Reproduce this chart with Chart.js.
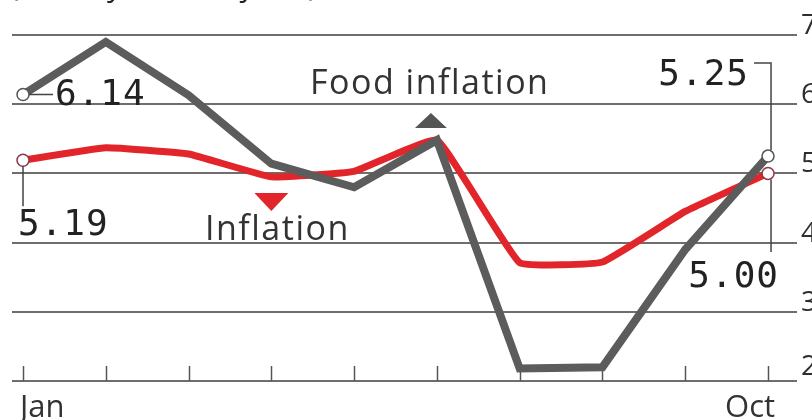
<!DOCTYPE html>
<html>
<head>
<meta charset="utf-8">
<script src="https://cdn.jsdelivr.net/npm/chart.js@4/dist/chart.umd.min.js"></script>
<style>
  html, body { margin: 0; padding: 0; background: #ffffff; }
  #wrap { width: 812px; height: 420px; }
</style>
</head>
<body>
<div id="wrap"><canvas id="c" width="812" height="420"></canvas></div>
<script>
// ---- Data ----
const months = ['Jan','Feb','Mar','Apr','May','Jun','Jul','Aug','Sep','Oct'];
const inflation = [5.19, 5.37, 5.28, 4.95, 5.03, 5.48, 3.71, 3.72, 4.45, 5.00];
const foodInflation = [6.14, 6.90, 6.13, 5.14, 4.80, 5.48, 2.18, 2.20, 3.90, 5.25];
const yTickValues = [2, 3, 4, 5, 6, 7];
const shownMonths = ['Jan', 'Oct'];
const titleText = '(in %, year-on-year)';
const foodLabel = 'Food inflation';
const inflLabel = 'Inflation';

const RED = '#e2252b';
const GREY = '#5c5c5c';
const GRID = '#6e6e6e';
const TEXT = '#2e2e2e';

const toPoints = arr => arr.map((v, i) => ({ x: i, y: v }));
const endRadius = arr => arr.map((v, i) => (i === 0 || i === arr.length - 1) ? 6 : 0);

const overlay = {
  id: 'overlay',
  beforeDatasetsDraw(chart) {
    const { ctx, chartArea: a, scales: { x, y } } = chart;
    ctx.save();
    // horizontal grid lines
    ctx.strokeStyle = GRID;
    ctx.lineWidth = 2;
    yTickValues.forEach(v => {
      const py = Math.round(y.getPixelForValue(v));
      ctx.beginPath();
      ctx.moveTo(a.left, py);
      ctx.lineTo(a.right, py);
      ctx.stroke();
    });
    // month tick marks rising from the base line
    ctx.strokeStyle = '#555';
    ctx.lineWidth = 1.5;
    const base = y.getPixelForValue(yTickValues[0]);
    months.forEach((m, i) => {
      const px = Math.round(x.getPixelForValue(i)) + 0.5;
      ctx.beginPath();
      ctx.moveTo(px, base - 15);
      ctx.lineTo(px, base);
      ctx.stroke();
    });
    // right-side value labels
    ctx.fillStyle = TEXT;
    ctx.font = '28px "Open Sans"';
    ctx.textAlign = 'left';
    ctx.textBaseline = 'alphabetic';
    yTickValues.forEach(v => {
      const py = y.getPixelForValue(v);
      ctx.fillText(String(v), a.right + 4, py - 1 - (v === yTickValues[0] ? 5 : 0));
    });
    // month labels
    ctx.font = '31px "Open Sans"';
    ctx.fillStyle = '#333';
    months.forEach((m, i) => {
      if (!shownMonths.includes(m)) return;
      const px = x.getPixelForValue(i);
      if (i === 0) { ctx.textAlign = 'left'; ctx.fillText(m, px - 3, 417); }
      else { ctx.textAlign = 'right'; ctx.fillText(m, px + 7, 417); }
    });
    // cut-off subtitle at top
    ctx.textAlign = 'left';
    ctx.font = '30px "Open Sans"';
    ctx.fillStyle = '#222';
    ctx.letterSpacing = '2px';
    ctx.fillText(titleText, 10, -4);
    ctx.restore();
  },
  afterDatasetsDraw(chart) {
    const { ctx, scales: { x, y } } = chart;
    const last = months.length - 1;
    const x0 = x.getPixelForValue(0);
    const xN = x.getPixelForValue(last);
    const gy0 = y.getPixelForValue(foodInflation[0]);
    const ry0 = y.getPixelForValue(inflation[0]);
    const gyN = y.getPixelForValue(foodInflation[last]);
    const ryN = y.getPixelForValue(inflation[last]);
    ctx.save();
    // leader lines
    ctx.strokeStyle = '#444';
    ctx.lineWidth = 1.5;
    ctx.beginPath();
    ctx.moveTo(x0 + 6, gy0); ctx.lineTo(x0 + 30, gy0);
    ctx.moveTo(x0, ry0 + 6); ctx.lineTo(x0, ry0 + 46);
    ctx.moveTo(xN - 14, 63); ctx.lineTo(xN + 3, 63); ctx.lineTo(xN + 3, gyN - 6);
    ctx.moveTo(xN + 3, ryN + 6); ctx.lineTo(xN + 3, 252);
    ctx.stroke();
    // value labels
    ctx.fillStyle = '#222';
    ctx.font = '36px "DejaVu Sans Mono"';
    ctx.letterSpacing = '1px';
    ctx.textAlign = 'left';
    ctx.textBaseline = 'alphabetic';
    ctx.fillText(foodInflation[0].toFixed(2), x0 + 32, 105);
    ctx.fillText(inflation[0].toFixed(2), x0 - 5, 235);
    ctx.textAlign = 'right';
    ctx.fillText(foodInflation[last].toFixed(2), xN - 19, 85);
    ctx.fillText(inflation[last].toFixed(2), xN + 11, 287);
    // series labels
    ctx.font = '34px "Open Sans"';
    ctx.letterSpacing = '1.5px';
    ctx.fillStyle = '#333';
    ctx.textAlign = 'left';
    ctx.fillText(foodLabel, 310, 94);
    ctx.fillText(inflLabel, 205, 240);
    ctx.letterSpacing = '0px';
    // markers
    const gx = x.getPixelForValue(5) - 6;
    ctx.fillStyle = '#555';
    ctx.beginPath();
    ctx.moveTo(gx, 113); ctx.lineTo(gx + 16, 128); ctx.lineTo(gx - 16, 128); ctx.closePath();
    ctx.fill();
    const rx = x.getPixelForValue(3);
    ctx.fillStyle = RED;
    ctx.beginPath();
    ctx.moveTo(rx - 17, 193); ctx.lineTo(rx + 17, 193); ctx.lineTo(rx, 211); ctx.closePath();
    ctx.fill();
    ctx.restore();
  }
};

new Chart(document.getElementById('c'), {
  type: 'line',
  data: {
    datasets: [
      {
        label: foodLabel,
        data: toPoints(foodInflation),
        borderColor: GREY,
        borderWidth: 8,
        tension: 0,
        borderJoinStyle: 'miter',
        pointRadius: endRadius(foodInflation),
        pointBackgroundColor: '#ffffff',
        pointBorderColor: '#555',
        pointBorderWidth: 1.5
      },
      {
        label: inflLabel,
        data: toPoints(inflation),
        borderColor: RED,
        borderWidth: 7,
        tension: 0.1,
        pointRadius: endRadius(inflation),
        pointBackgroundColor: '#ffffff',
        pointBorderColor: '#8a3a48',
        pointBorderWidth: 1.5
      }
    ]
  },
  options: {
    responsive: false,
    animation: false,
    events: [],
    layout: { padding: { left: 12, right: 15, top: 35, bottom: 39 } },
    plugins: { legend: { display: false }, tooltip: { enabled: false } },
    scales: {
      x: { type: 'linear', display: false, min: -0.133, max: 9.35 },
      y: { type: 'linear', display: false, min: 2, max: 7 }
    }
  },
  plugins: [overlay]
});
</script>
</body>
</html>
